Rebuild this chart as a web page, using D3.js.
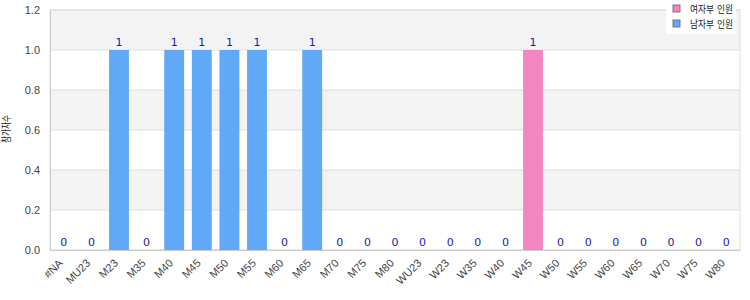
<!DOCTYPE html>
<html>
<head>
<meta charset="utf-8">
<script src="https://cdn.jsdelivr.net/npm/d3@7"></script>
<style>
  body { margin: 0; background: #fff; }
  svg { font-family: "DejaVu Sans", "Noto Sans CJK KR", sans-serif; }
</style>
</head>
<body>
<svg id="chart" width="750" height="300"></svg>
<script>
const categories = ["#NA", "MU23", "M23", "M35", "M40", "M45", "M50", "M55", "M60", "M65", "M70", "M75", "M80",
  "WU23", "W23", "W35", "W40", "W45", "W50", "W55", "W60", "W65", "W70", "W75", "W80"];
const counts = [0, 0, 1, 0, 1, 1, 1, 1, 0, 1, 0, 0, 0, 0, 0, 0, 0, 1, 0, 0, 0, 0, 0, 0, 0];
const seriesNames = ["여자부 인원", "남자부 인원"];
const yTicks = [0, 0.2, 0.4, 0.6, 0.8, 1.0, 1.2];
const yLabel = "참가자수";

const colors = { W: "#f386c0", M: "#60a9f6" };

const margin = { top: 10, right: 10, bottom: 50, left: 50 };
const width = 750 - margin.left - margin.right;
const height = 300 - margin.top - margin.bottom;

const svg = d3.select("#chart");
const g = svg.append("g").attr("transform", `translate(${margin.left},${margin.top})`);

const x = d3.scaleBand().domain(categories).range([0, width]).paddingInner(0.28).paddingOuter(0.14);
const y = d3.scaleLinear().domain([0, 1.2]).range([height, 0]);

// alternating bands
const bands = d3.pairs(yTicks);
g.selectAll(".band")
  .data(bands)
  .join("rect")
  .attr("x", 0)
  .attr("width", width)
  .attr("y", d => y(d[1]))
  .attr("height", d => y(d[0]) - y(d[1]))
  .attr("fill", (d, i) => i % 2 === 1 ? "#f3f3f3" : "#fff");

// grid lines
g.selectAll(".grid")
  .data(yTicks)
  .join("line")
  .attr("x1", 0).attr("x2", width)
  .attr("y1", d => y(d)).attr("y2", d => y(d))
  .attr("stroke", "#dedede");

// frame
g.append("rect")
  .attr("width", width).attr("height", height)
  .attr("fill", "none").attr("stroke", "#dedede");

// bars
const group = c => c.startsWith("W") ? "W" : "M";
g.selectAll(".bar")
  .data(categories)
  .join("rect")
  .attr("x", d => x(d))
  .attr("width", x.bandwidth())
  .attr("y", (d, i) => y(counts[i]))
  .attr("height", (d, i) => y(0) - y(counts[i]))
  .attr("fill", d => colors[group(d)]);

// value labels
g.selectAll(".val")
  .data(categories)
  .join("text")
  .attr("x", d => x(d) + x.bandwidth() / 2)
  .attr("y", (d, i) => y(counts[i]) - 4)
  .attr("text-anchor", "middle")
  .style("font-size", "11px")
  .style("fill", "#1c1c9a")
  .text((d, i) => counts[i]);

// y axis
g.append("g")
  .call(d3.axisLeft(y).tickValues(yTicks).tickFormat(d3.format(".1f")).tickSize(0).tickPadding(10))
  .call(a => a.select(".domain").attr("stroke", "#cccccc"))
  .selectAll("text")
  .style("font-size", "11px")
  .style("fill", "#444");

// x axis
g.append("g")
  .attr("transform", `translate(0,${height})`)
  .call(d3.axisBottom(x).tickSize(0).tickPadding(6))
  .call(a => a.select(".domain").attr("stroke", "#cccccc"))
  .selectAll("text")
  .attr("x", 0)
  .attr("y", 0)
  .attr("dy", "0.35em")
  .attr("text-anchor", "end")
  .attr("transform", "translate(-3,11) rotate(-45)")
  .style("font-size", "11px")
  .style("fill", "#444");

// y label
svg.append("text")
  .attr("transform", `translate(6,${margin.top + height / 2 - 1}) rotate(-90)`)
  .attr("text-anchor", "middle")
  .attr("dy", "0.35em")
  .attr("textLength", 28)
  .attr("lengthAdjust", "spacingAndGlyphs")
  .style("font-size", "10px")
  .style("fill", "#222")
  .text(yLabel);

// legend
const legend = svg.append("g").attr("transform", "translate(666,0)");
legend.append("rect").attr("width", 70).attr("height", 34).attr("fill", "#fff");
const legItems = [{ name: seriesNames[0], c: colors.W }, { name: seriesNames[1], c: colors.M }];
legItems.forEach((it, i) => {
  legend.append("rect")
    .attr("x", 7).attr("y", 5 + i * 15)
    .attr("width", 7).attr("height", 7)
    .attr("fill", it.c).attr("stroke", "#777");
  legend.append("text")
    .attr("x", 24).attr("y", 9 + i * 15)
    .attr("dy", "0.35em")
    .attr("textLength", 43)
    .attr("lengthAdjust", "spacingAndGlyphs")
    .style("font-size", "10px")
    .style("fill", "#222")
    .text(it.name);
});
</script>
</body>
</html>
